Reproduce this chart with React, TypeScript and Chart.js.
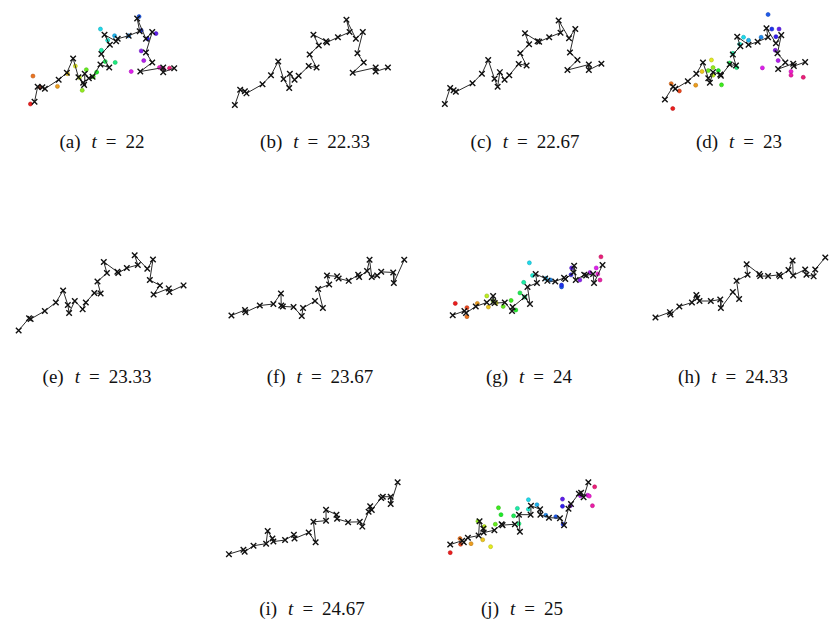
import React, { useEffect, useRef } from 'react';
import { Chart, registerables } from 'chart.js';
Chart.register(...registerables);

type P = [number, number];

// Trajectory points (agent positions, marked X) per time step, in plot units
const pathA: P[] = [[45,318],[55,268],[70,270],[78,275],[122,245],[148,222],[168,175],[185,237],[200,255],[203,262],[205,225],[218,240],[230,235],[255,195],[283,205],[258,160],[285,130],[268,97],[305,118],[310,110],[345,100],[380,85],[372,43],[400,110],[420,88],[400,155],[420,188],[382,218],[455,205],[455,220],[490,207]];
const pathB: P[] = [[30,328],[47,278],[62,283],[67,290],[118,260],[145,230],[168,185],[185,243],[203,272],[205,225],[220,245],[233,232],[265,200],[290,205],[268,162],[297,132],[280,97],[320,118],[323,122],[358,105],[395,88],[385,47],[415,110],[437,88],[420,158],[440,188],[405,222],[478,205],[478,218],[517,205]];
const pathC: P[] = [[30,325],[47,272],[58,280],[65,285],[118,257],[148,225],[168,180],[188,242],[198,268],[205,220],[220,245],[235,230],[265,193],[290,198],[270,158],[298,128],[285,92],[325,118],[330,120],[362,105],[398,90],[392,50],[425,108],[445,78],[428,155],[452,180],[420,213],[488,195],[488,213],[528,192]];
const pathD: P[] = [[62,310],[88,268],[95,275],[135,250],[162,225],[183,188],[200,240],[205,255],[215,220],[238,228],[240,232],[268,195],[288,198],[278,162],[302,135],[292,103],[328,130],[357,120],[390,105],[385,75],[415,125],[432,98],[420,158],[445,188],[422,210],[470,192],[472,200],[508,187]];
const pathE: P[] = [[42,283],[75,242],[80,245],[125,218],[160,190],[183,150],[198,198],[202,225],[220,185],[245,212],[255,190],[282,158],[302,160],[292,120],[322,92],[312,55],[355,88],[358,92],[385,75],[420,65],[410,33],[450,78],[468,47],[458,115],[490,133],[470,163],[518,143],[520,155],[565,133]];
const pathF: P[] = [[35,233],[78,215],[80,222],[125,200],[168,195],[192,160],[193,200],[198,203],[232,205],[258,235],[262,208],[300,185],[325,208],[310,145],[345,130],[338,100],[370,103],[375,110],[407,118],[437,98],[440,105],[465,85],[473,48],[480,105],[497,100],[510,88],[548,90],[550,125],[583,48]];
const pathG: P[] = [[55,232],[92,218],[97,225],[128,203],[163,190],[183,168],[183,188],[188,192],[220,190],[243,218],[245,205],[283,172],[300,195],[292,138],[322,125],[318,95],[348,110],[355,118],[380,120],[408,108],[412,112],[438,90],[440,68],[445,115],[472,98],[478,100],[500,95],[503,125],[530,65]];
const pathH: P[] = [[32,240],[78,222],[80,230],[108,203],[148,190],[162,165],[165,175],[172,185],[208,185],[238,180],[240,208],[278,155],[298,178],[290,118],[325,98],[322,63],[362,95],[365,102],[390,102],[425,98],[428,103],[455,82],[468,50],[470,100],[508,80],[512,98],[535,103],[540,80],[572,40]];
const pathI: P[] = [[27,280],[73,265],[77,272],[105,252],[145,245],[150,203],[165,228],[168,238],[205,233],[233,215],[235,228],[280,208],[302,240],[295,172],[335,168],[335,132],[368,148],[370,162],[405,173],[442,172],[450,188],[470,138],[475,120],[480,132],[510,92],[515,88],[540,88],[540,112],[562,40]];
const pathJ: P[] = [[47,248],[85,235],[90,240],[103,225],[137,218],[140,170],[152,195],[153,208],[187,200],[210,180],[213,183],[252,180],[268,205],[265,148],[302,148],[303,118],[332,130],[333,148],[360,158],[395,160],[408,183],[422,128],[430,112],[455,78],[462,75],[470,90],[485,40]];

// Target points (coloured dots), ordered by agent index
const dotsA: P[] = [[32,325],[63,270],[40,233],[118,267],[150,225],[175,200],[188,238],[197,280],[210,212],[232,235],[243,220],[270,185],[302,188],[258,148],[278,115],[255,78],[300,100],[345,100],[378,37],[385,83],[405,110],[432,93],[385,150],[393,182],[353,218],[443,205],[455,208],[475,207]];
const dotsD: P[] = [[87,340],[108,282],[82,258],[160,263],[180,218],[210,180],[215,230],[215,205],[200,215],[242,262],[232,215],[268,190],[290,205],[278,158],[300,128],[312,105],[328,115],[368,105],[390,30],[402,78],[415,103],[425,78],[413,148],[422,182],[372,206],[463,218],[463,230],[502,237]];
const dotsG: P[] = [[63,193],[100,207],[100,237],[133,193],[168,205],[193,192],[163,168],[183,185],[215,203],[240,183],[255,215],[268,158],[283,172],[280,123],[308,100],[298,58],[350,110],[365,115],[400,138],[400,132],[430,98],[432,75],[458,115],[490,90],[510,75],[515,95],[522,115],[525,38]];
const dotsJ: P[] = [[47,275],[80,247],[78,228],[113,245],[150,232],[175,255],[155,188],[135,170],[190,180],[200,125],[208,148],[248,152],[265,178],[260,127],[295,130],[295,98],[322,115],[350,150],[382,155],[405,180],[403,120],[403,96],[428,118],[460,85],[483,83],[488,86],[498,118],[505,55]];

const captionLetters = ['a','b','c','d','e','f','g','h','i','j'];
const tLabels = ['22','22.33','22.67','23','23.33','23.67','24','24.33','24.67','25'];

const paths = [pathA, pathB, pathC, pathD, pathE, pathF, pathG, pathH, pathI, pathJ];
const dotSets: (P[] | null)[] = [dotsA, null, null, dotsD, null, null, dotsG, null, null, dotsJ];

// layout boxes [left, top, width, height] and caption [centerX, top]
const boxes = [
  [15,0,185,120],[220,0,190,120],[430,0,190,120],[640,0,191,120],
  [0,240,200,110],[215,240,200,110],[430,240,200,110],[640,240,191,110],
  [215,465,200,105],[430,465,200,105],
];
const caps = [
  [102,131],[315,131],[525,131],[739,131],
  [97,366],[320,366],[529,366],[733,366],
  [312,598],[522,598],
];

function dotColor(i: number, n: number) {
  const h = (i / n) * 345;
  return `hsl(${h.toFixed(0)}, 85%, 52%)`;
}
function dotBorder(i: number, n: number) {
  const h = (i / n) * 345;
  return `hsl(${h.toFixed(0)}, 80%, 40%)`;
}

function Panel({ idx }: { idx: number }) {
  const ref = useRef<HTMLCanvasElement>(null);
  const [l, t, w, h] = boxes[idx];
  useEffect(() => {
    if (!ref.current) return;
    const path = paths[idx];
    const dots = dotSets[idx];
    const datasets: any[] = [];
    datasets.push({
      data: path.map(([x, y]) => ({ x, y })),
      showLine: true,
      borderColor: '#2a2a2a',
      borderWidth: 1,
      pointStyle: 'crossRot',
      pointRadius: 3.9,
      pointBorderWidth: 1.4,
      pointBorderColor: '#111',
      pointBackgroundColor: '#111',
      clip: false,
      order: 0,
    });
    if (dots) {
      const n = dots.length;
      datasets.push({
        data: dots.map(([x, y]) => ({ x, y })),
        showLine: false,
        pointStyle: 'circle',
        pointRadius: 2,
        pointBorderWidth: 0.6,
        pointBackgroundColor: dots.map((_, i) => dotColor(i, n)),
        pointBorderColor: dots.map((_, i) => dotBorder(i, n)),
        clip: false,
        order: 1,
      });
    }
    const chart = new Chart(ref.current, {
      type: 'scatter',
      data: { datasets },
      options: {
        animation: false,
        responsive: false,
        events: [],
        layout: { padding: 0 },
        plugins: { legend: { display: false }, tooltip: { enabled: false } },
        scales: {
          x: { type: 'linear', display: false, min: 0, max: w * 3 },
          y: { type: 'linear', display: false, min: 0, max: h * 3, reverse: true },
        },
      },
    } as any);
    return () => chart.destroy();
  }, [idx]);
  return (
    <canvas
      ref={ref}
      width={w}
      height={h}
      style={{ position: 'absolute', left: l, top: t, width: w, height: h }}
    />
  );
}

function Caption({ idx }: { idx: number }) {
  const [cx, top] = caps[idx];
  return (
    <div
      style={{
        position: 'absolute',
        left: cx - 100,
        top,
        width: 200,
        textAlign: 'center',
        fontFamily: "'Liberation Serif', 'Tinos', 'Times New Roman', 'DejaVu Serif', serif",
        fontSize: 19,
        color: '#111',
        whiteSpace: 'nowrap',
      }}
    >
      <span>({captionLetters[idx]})</span>
      <i style={{ marginLeft: 11 }}>t</i>
      <span style={{ margin: '0 9px' }}>=</span>
      <span>{tLabels[idx]}</span>
    </div>
  );
}

export default function App() {
  return (
    <div style={{ position: 'absolute', left: 0, top: 0, width: 831, height: 621, background: '#fff', overflow: 'hidden' }}>
      {boxes.map((_, i) => (
        <Panel key={'p' + i} idx={i} />
      ))}
      {caps.map((_, i) => (
        <Caption key={'c' + i} idx={i} />
      ))}
    </div>
  );
}
